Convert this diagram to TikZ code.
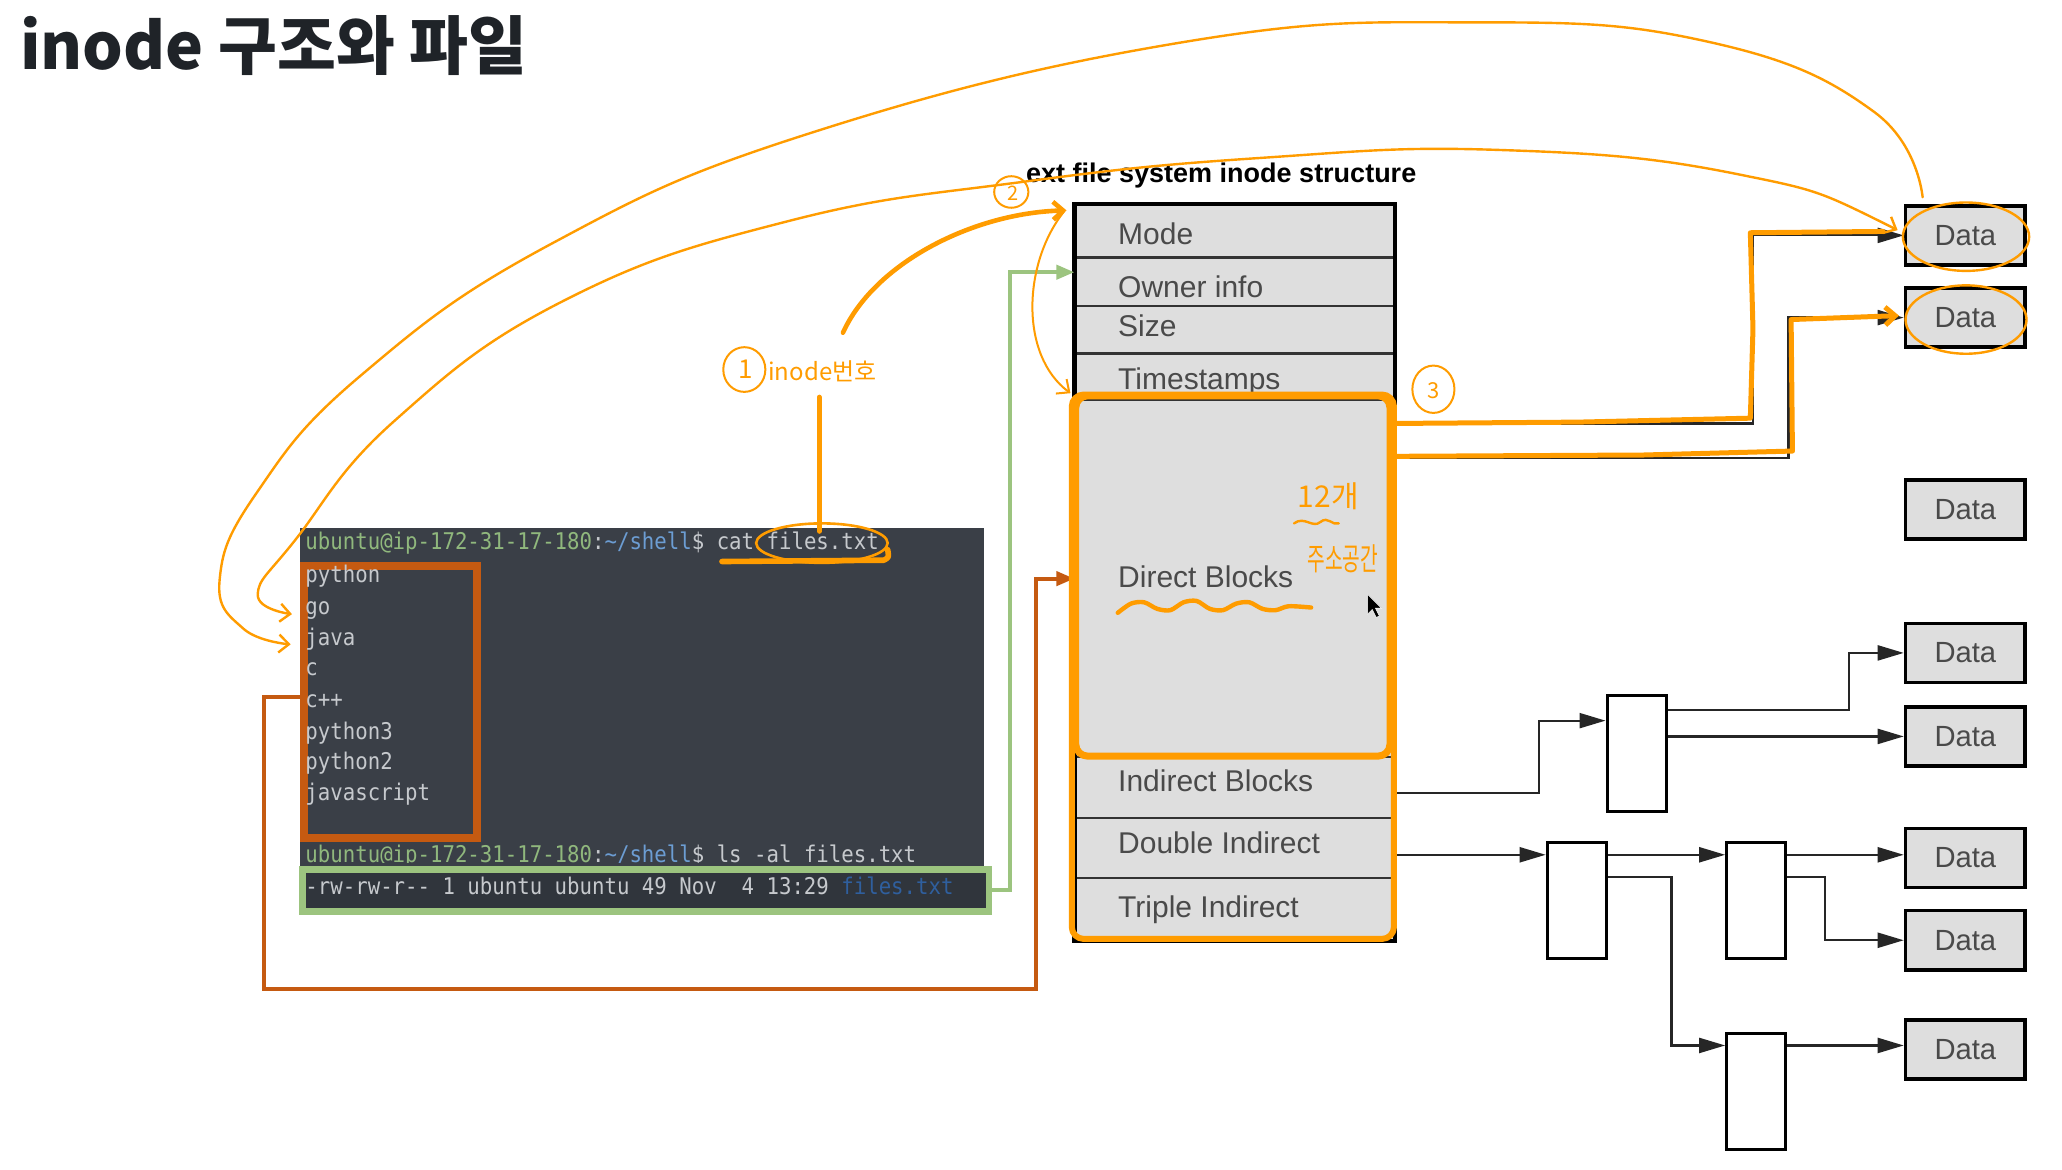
\documentclass[tikz,border=0pt]{standalone}
\usepackage{fontspec}
\setmainfont{Liberation Sans}
\newfontfamily\krfont{Noto Sans CJK KR}
\newfontfamily\termfont[FakeStretch=0.9]{DejaVu Sans Mono}
\usetikzlibrary{arrows.meta,calc}
\newcommand\upx[1]{#1*0.6575pt}
\definecolor{termbg}{HTML}{3A3F47}
\definecolor{termdark}{HTML}{30353C}
\definecolor{termgray}{HTML}{C6C9CD}
\definecolor{pgreen}{HTML}{90B87D}
\definecolor{pblue}{HTML}{6C9DD3}
\definecolor{lsblue}{HTML}{2F5F9E}
\definecolor{brownc}{HTML}{C55A11}
\definecolor{greenc}{HTML}{9CC47F}
\definecolor{orng}{HTML}{FF9C00}
\definecolor{cellgray}{HTML}{DEDEDE}
\definecolor{labgray}{HTML}{4A4A4A}
\definecolor{titlec}{HTML}{1F2328}
\begin{document}
\begin{tikzpicture}[x=0.6575pt,y=-0.6575pt,
  rowbox/.style={draw=black!80, line width=1.1pt, fill=cellgray, minimum width=\upx{242}, inner sep=0pt, anchor=north west},
  rowtext/.style={anchor=base west, inner sep=0pt, text=labgray, font=\fontsize{15}{15}\selectfont},
  databox/.style={draw=black, line width=1.8pt, fill=cellgray, minimum width=\upx{91}, minimum height=\upx{45}, inner sep=0pt, text=labgray, font=\fontsize{14.6}{15}\selectfont},
  ptrbox/.style={draw=black, line width=1.5pt, fill=white, minimum width=\upx{45}, minimum height=\upx{88}, inner sep=0pt},
  conn/.style={draw=black!85, line width=1.1pt, -{Triangle[length=13pt,width=7.5pt]}},
  brownconn/.style={draw=brownc, line width=2pt, -{Triangle[length=9pt,width=7pt]}},
  greenconn/.style={draw=greenc, line width=2pt, -{Triangle[length=9pt,width=7pt]}},
  termtext/.style={anchor=base west, inner sep=0pt, font=\termfont\fontsize{11.5}{12}\selectfont, text=termgray},
  hand/.style={draw=orng, line cap=round, line join=round},
  handtext/.style={inner sep=0pt, text=orng, font=\krfont\fontsize{12}{12}\selectfont},
  barb/.style={-{Straight Barb[length=5pt,width=9pt]}}
]
\useasboundingbox (0,0) rectangle (1568,889);
\fill[white] (0,0) rectangle (1568,889);

% title
\node[anchor=base west, inner sep=0pt, font=\krfont\bfseries\fontsize{32}{32}\selectfont, text=titlec] (title) at (15,53) {inode 구조와 파일};

% ---------------- terminal ----------------
\node[fill=termbg, minimum width=\upx{520}, minimum height=\upx{289}, inner sep=0pt, anchor=north west] (term) at (228,401) {};
\node[draw=brownc, line width=4pt, minimum width=\upx{131}, minimum height=\upx{207}, inner sep=0pt, anchor=north west] (names) at (228.5,427) {};
\node[draw=greenc, fill=termdark, line width=3.3pt, minimum width=\upx{522}, minimum height=\upx{32}, inner sep=0pt, anchor=north west] (lsline) at (227.5,658.5) {};

\node[termtext] (p1) at (232,418) {\textcolor{pgreen}{ubuntu@ip-172-31-17-180}:\textcolor{pblue}{\textasciitilde/shell}\$ cat files.txt};
\node[termtext] (l1) at (232,443) {python};
\node[termtext] (l2) at (232,467) {go};
\node[termtext] (l3) at (232,491) {java};
\node[termtext] (l4) at (232,514) {c};
\node[termtext] (l5) at (232,538) {c++};
\node[termtext] (l6) at (232,562) {python3};
\node[termtext] (l7) at (232,585) {python2};
\node[termtext] (l8) at (232,609) {javascript};
\begin{scope}
\clip (228,401) rectangle (748,656);
\node[termtext] (p2) at (232,656) {\textcolor{pgreen}{ubuntu@ip-172-31-17-180}:\textcolor{pblue}{\textasciitilde/shell}\$ ls -al files.txt};
\end{scope}
\node[termtext] (lsout) at (232,680) {-rw-rw-r-{}- 1 ubuntu ubuntu 49 Nov\ \ 4 13:29 \textcolor{lsblue}{files.txt}};

% ---------------- inode table ----------------
\node[anchor=base west, inner sep=0pt, font=\bfseries\fontsize{13.5}{14}\selectfont] (exttitle) at (780,139) {ext file system inode structure};
\node[rowbox, minimum height=\upx{40}] (mode) at (817,155) {};
\node[rowbox, minimum height=\upx{37}] (owner) at (817,195) {};
\node[rowbox, minimum height=\upx{36}] (size) at (817,232) {};
\node[rowbox, minimum height=\upx{35}] (times) at (817,268) {};
\node[rowbox, minimum height=\upx{272}] (direct) at (817,303) {};
\node[rowbox, minimum height=\upx{46}] (indirect) at (817,575) {};
\node[rowbox, minimum height=\upx{46}] (double) at (817,621) {};
\node[rowbox, minimum height=\upx{47}] (triple) at (817,667) {};
\draw[line width=2.3pt] (mode.north west) rectangle (triple.south east);
\node[rowtext] (modeT) at (850,186) {Mode};
\node[rowtext] (ownerT) at (850,226) {Owner\ info};
\node[rowtext] (sizeT) at (850,256) {Size};
\node[rowtext] (timesT) at (850,296) {Timestamps};
\node[rowtext] (directT) at (850,447) {Direct\ Blocks};
\node[rowtext] (indirectT) at (850,602) {Indirect\ Blocks};
\node[rowtext] (doubleT) at (850,649) {Double\ Indirect};
\node[rowtext] (tripleT) at (850,698) {Triple\ Indirect};

% ---------------- data and pointer blocks ----------------
\node[databox] (data1) at (1494.5,179) {Data};
\node[databox] (data2) at (1494.5,241.5) {Data};
\node[databox] (data3) at (1494.5,387.5) {Data};
\node[databox] (data4) at (1494.5,496.5) {Data};
\node[databox] (data5) at (1494.5,560) {Data};
\node[databox] (data6) at (1494.5,652.5) {Data};
\node[databox] (data7) at (1494.5,715) {Data};
\node[databox] (data8) at (1494.5,798) {Data};
\node[ptrbox] (b1) at (1244.5,573) {};
\node[ptrbox] (b2) at (1199,685) {};
\node[ptrbox] (b3) at (1335.5,685) {};
\node[ptrbox] (b4) at (1335.5,830) {};

\draw[conn] (direct.east |- 0,322) -| (1333,0 |- data1.west) -- (data1.west);
\draw[conn] (direct.east |- 0,348) -| (1360,0 |- data2.west) -- (data2.west);
\draw[conn] (indirect.east |- 0,603) -| (1170,548) -- (b1.west |- 0,548);
\draw[conn] (b1.east |- 0,540) -| (1406,0 |- data4.west) -- (data4.west);
\draw[conn] (b1.east |- data5.west) -- (data5.west);
\draw[conn] (double.east |- 0,650) -- (b2.west |- 0,650);
\draw[conn] (b2.east |- 0,650) -- (b3.west |- 0,650);
\draw[conn] (b2.east |- 0,667) -| (1271,795) -- (b4.west |- 0,795);
\draw[conn] (b3.east |- 0,650) -- (data6.west |- 0,650);
\draw[conn] (b3.east |- 0,667) -| (1388,0 |- data7.west) -- (data7.west);
\draw[conn] (b4.east |- 0,795) -- (data8.west |- 0,795);

% coloured connectors
\draw[brownconn] (names.west |- 0,530) -| (201,752) -| (788,440) -- (direct.west |- 0,440);
\draw[greenconn] (lsline.east) -| (768,207) -- (owner.west |- 0,207);

% ---------------- orange hand markup ----------------
\draw[hand, line width=3pt, rounded corners=6pt] (815,300) rectangle (1060,714);
\draw[hand, line width=3.5pt, rounded corners=6pt] (818,301) rectangle (1057,575);

\draw[hand, line width=1.3pt] (625,413) ellipse [x radius=50, y radius=15];
\draw[hand, line width=2.8pt] (549,427) -- (672,426) .. controls (676,424) .. (675,418);
\draw[hand, line width=2.5pt] (623,302) -- (623,404);

\draw[hand, line width=1pt] (566,281) ellipse [x radius=16, y radius=17];
\node[handtext, font=\krfont\fontsize{13}{13}\selectfont] (one) at (567,281) {1};
\node[handtext, anchor=base west] (inodeno) at (584,289) {inode번호};
\coordinate (c1s) at (641,253);
\draw[hand, line width=2.3pt, barb] (c1s) .. controls (665,200) and (740,162) .. ($(mode.north west)+(-6,5)$);
\draw[hand, line width=1pt, barb] ($(mode.north west)+(-8,6)$) .. controls (778,200) and (775,270) .. ($(direct.north west)+(-3,-4)$);

\draw[hand, line width=1pt] (769,146) ellipse [x radius=13, y radius=12];
\node[handtext, font=\krfont\fontsize{10}{10}\selectfont] (two) at (770,147) {2};

\draw[hand, line width=1.2pt, barb] plot[smooth, tension=0.75] coordinates {(1462,150) (1425,85) (1300,32) (1121,17) (900,32) (620,100) (420,185) (275,285) (195,375) (167,441) (185,478) (221,490)};
\draw[hand, line width=1.2pt, {Straight Barb[length=5pt,width=9pt]}-{Straight Barb[length=5pt,width=9pt]}] plot[smooth, tension=0.75] coordinates {(1443,175) (1319,132) (1139,114) (960,120) (780,138) (600,168) (430,228) (300,320) (225,410) (196,452) (222,467)};

\draw[hand, line width=1pt] (1090,296) ellipse [x radius=16, y radius=18];
\node[handtext, font=\krfont\fontsize{11}{11}\selectfont] (three) at (1090,297) {3};
\draw[hand, line width=2.5pt] (1062,322) -- (1200,321) -- (1331,318) -- (1333,250) -- (1331,177) -- (1432,176);
\draw[hand, line width=2.5pt, barb] (1062,347) -- (1250,346) -- (1363,343) -- (1362,243) -- (1444,240);
\draw[hand, line width=1.2pt] (1495,180) ellipse [x radius=48, y radius=26];
\draw[hand, line width=1.2pt] (1495,243) ellipse [x radius=46, y radius=26];

\node[handtext, font=\krfont\fontsize{15}{15}\selectfont] (twelve) at (1010,377) {12개};
\draw[hand, line width=1.2pt] (984,398) .. controls (992,392) and (998,402) .. (1004,397) .. controls (1010,392) and (1013,400) .. (1018,398);
\node[handtext] (addr) at (1021,425) {\scalebox{0.8}[1.3]{주소공간}};
\draw[hand, line width=2.2pt] plot[smooth] coordinates {(850,466) (860,459) (870,458) (880,463) (890,464) (900,458) (910,457) (920,463) (930,464) (940,459) (950,458) (960,463) (970,464) (980,461) (997,462)};

% mouse cursor
\filldraw[fill=black, draw=white, line width=0.3pt] (1040,452) -- (1040,467) -- (1043.5,463.5) -- (1046.5,469.5) -- (1049,468.5) -- (1046,462.5) -- (1050.5,462.5) -- cycle;
\end{tikzpicture}
\end{document}
